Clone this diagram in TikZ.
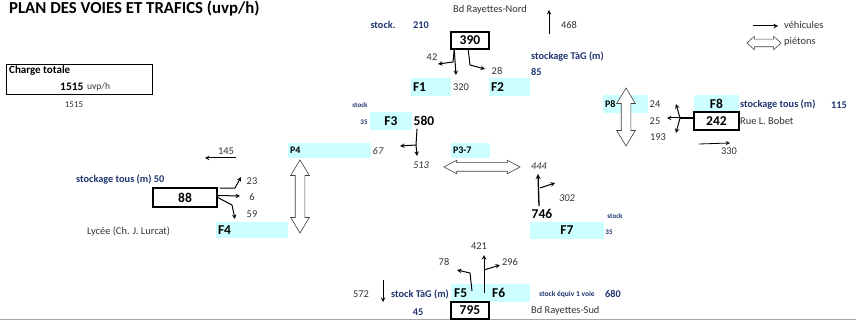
\documentclass[tikz,border=0pt]{standalone}
\usepackage{fontspec}
\setmainfont{Carlito}
\usetikzlibrary{
		calc,
		shapes.arrows
	}
\definecolor{fondvoie}{HTML}{CCFFFF}
\definecolor{bleustock}{HTML}{1F3570}
\tikzset{
		>=stealth,
		txt/.style={inner sep=0pt, font=\fontsize{10.4}{12}\selectfont, text=black!80},
		txtit/.style={txt, font=\fontsize{10.4}{12}\selectfont\itshape},
		stockage/.style={inner sep=0pt, font=\fontsize{10.3}{12}\selectfont\bfseries, text=bleustock},
		stockpetit/.style={inner sep=0pt, font=\fontsize{7}{9}\selectfont\bfseries, text=bleustock},
		nombre/.style={inner sep=0pt, font=\fontsize{13.5}{15}\selectfont\bfseries},
		voie/.style={fill=fondvoie, inner sep=0pt, font=\fontsize{13.5}{15}\selectfont\bfseries},
		petitevoie/.style={voie, font=\fontsize{10}{12}\selectfont\bfseries},
		compteur/.style={draw, line width=1.5pt, fill=white, inner sep=0pt, font=\fontsize{13.5}{15}\selectfont\bfseries},
		flux/.style={->, line width=1pt},
		pieton/.style={draw=black!75, line width=.6pt, fill=white, double arrow, inner sep=0pt,
			double arrow head extend=4.5pt, double arrow tip angle=62}
	}

\begin{document}
\begin{tikzpicture}[x=1pt,y=-1pt]
          \useasboundingbox (0,0) rectangle (856,320);
          \draw[black!35] (0,319.5) -- (856,319.5);

          % titre et charge
          \node[anchor=west, inner sep=0pt, font=\fontsize{16.8}{19}\selectfont\bfseries] (titre) at (9,9) {PLAN DES VOIES ET TRAFICS (uvp/h)};
          \node[draw, line width=1.5pt, minimum width=146pt, minimum height=30pt, inner sep=0pt] (charge) at (79.5,79.5) {};
          \node[anchor=west, stockage, text=black, font=\fontsize{11}{13}\selectfont\bfseries] (chargetxt) at (9,71) {Charge totale};
          \node[anchor=west, inner sep=0pt, font=\fontsize{11.5}{13}\selectfont\bfseries] (chargeval) at (60,87) {1515};
          \node[anchor=west, txt, font=\fontsize{9.5}{11}\selectfont] (chargeunit) at (87,87) {uvp/h};
          \node[txt, font=\fontsize{9}{11}\selectfont] (chargebis) at (74,105) {1515};

          % legende
          \coordinate (legA) at (753,26);
          \coordinate (legB) at (778,26);
          \draw[flux] (legA) -- (legB);
          \node[anchor=west, txt] (legveh) at (784,25) {véhicules};
          \node[pieton, minimum height=34pt, double arrow head extend=3pt, double arrow tip angle=85] (legpiet) at (764,43) {\rule{0pt}{7pt}};
          \node[anchor=west, txt] (legptxt) at (784,42) {piétons};

          % voies
          \node[voie, minimum width=40pt, minimum height=18pt, text width=36pt] (F1) at (431,87) {F1};
          \node[voie, minimum width=41pt, minimum height=18pt, text width=37pt] (F2) at (509.5,87) {F2};
          \node[voie, minimum width=42pt, minimum height=18pt, align=center] (F3) at (391,121) {F3};
          \node[petitevoie, minimum width=83pt, minimum height=15pt, text width=79pt] (P4) at (329.5,150.5) {P4};
          \node[petitevoie, minimum width=39pt, minimum height=15pt, text width=35pt] (P37) at (470.5,150.5) {P3-7};
          \node[voie, minimum width=72pt, minimum height=16pt, text width=68pt] (F4) at (252,230) {F4};
          \node[voie, minimum width=74pt, minimum height=17pt, align=center] (F7) at (567,230.5) {F7};
          \node[petitevoie, minimum width=45pt, minimum height=18pt, text width=41pt] (P8) at (625.5,104) {P8};
          \node[voie, minimum width=45pt, minimum height=17pt, align=center] (F8) at (716.5,103.5) {F8};
          \node[voie, minimum width=79pt, minimum height=18pt] (F56) at (490.5,293) {};
          \node[anchor=west, nombre] (F5) at (454,293) {F5};
          \node[anchor=west, nombre] (F6) at (492,293) {F6};

          % compteurs
          \node[compteur, minimum width=38pt, minimum height=17pt] (b390) at (470,40.5) {390};
          \node[compteur, minimum width=45pt, minimum height=18pt] (b242) at (716.5,121) {242};
          \node[compteur, minimum width=64pt, minimum height=19pt] (b88) at (185,197.5) {88};
          \node[compteur, minimum width=38pt, minimum height=17pt] (b795) at (470,310.5) {795};
          \node[nombre] (n580) at (424,121) {580};
          \node[nombre] (n746) at (542,214) {746};

          % pietons
          \node[pieton, rotate=90, minimum height=73pt] (pietP4) at (300,196.5) {\rule{0pt}{9pt}};
          \node[pieton, minimum height=76pt, double arrow head extend=2.5pt, double arrow tip angle=56] (pietP37) at (482,167) {\rule{0pt}{8pt}};
          \node[pieton, rotate=90, minimum height=58pt] (pietP8) at (626,117) {\rule{0pt}{9pt}};

          % nord
          \node[txt] (nomnord) at (490,10) {Bd Rayettes-Nord};
          \node[stockage] (stocknord) at (383,25) {stock.};
          \node[stockage] (v210) at (421,25) {210};
          \node[txt] (t468) at (569,25) {468};
          \coordinate (a468) at (549,34);
          \coordinate (b468) at (549,10);
          \draw[flux] (a468) -- (b468);
          \node[txt] (t42) at (432,57) {42};
          \node[txt] (t28) at (497,71) {28};
          \node[txt] (t320) at (461,87) {320};
          \node[anchor=west, stockage] (stocktag) at (531,57) {stockage TàG (m)};
          \node[anchor=west, stockage] (v85) at (531,72) {85};
          \coordinate (c42) at (453,62);
          \coordinate (e42) at (438,64);
          \coordinate (e320) at (456,75);
          \coordinate (c28) at (470,65);
          \coordinate (e28) at (485,69);
          \draw[flux] ($(b390.south west)+(4,0)$) -- (c42) -- (e42);
          \draw[flux] ($(b390.south west)+(4,0)$) -- (e320);
          \draw[flux] ($(b390.south west)+(18,0)$) -- (c28) -- (e28);

          % centre
          \node[stockpetit] (stockF3) at (360,105) {stock};
          \node[stockpetit] (v35F3) at (364,122) {35};
          \node[txtit] (t67) at (378,151) {67};
          \node[txtit] (t513) at (421,165) {513};
          \node[txtit] (t444) at (539,166) {444};
          \node[txtit] (t302) at (567,198) {302};
          \coordinate (c580) at (416,145);
          \coordinate (e513) at (417,156);
          \coordinate (e67) at (400,146);
          \draw[flux] ($(n580.south)+(-7,3)$) -- (c580) -- (e67);
          \draw[flux] (c580) -- (e513);
          \coordinate (a746) at (539,206);
          \coordinate (e444) at (538,174);
          \coordinate (c746) at (540,188);
          \coordinate (e302) at (555,183);
          \draw[flux, line width=1.3pt] (a746) -- (e444);
          \draw[flux] (c746) -- (e302);
          \node[stockpetit] (stockF7) at (615,216) {stock};
          \node[stockpetit] (v35F7) at (609,232) {35};

          % ouest
          \node[txt] (t145) at (226,151) {145};
          \coordinate (a145) at (236,158);
          \coordinate (b145) at (205,158);
          \draw[flux] (a145) -- (b145);
          \node[anchor=west, stockage] (stockouest) at (76,180) {stockage tous (m) 50};
          \node[anchor=west, txt] (lycee) at (87,232) {Lycée (Ch. J. Lurcat)};
          \node[txt] (t23) at (252,181) {23};
          \node[txt] (t6) at (252,197) {6};
          \node[txt] (t59) at (252,214) {59};
          \coordinate (c23) at (235,188);
          \coordinate (e23) at (241,177);
          \coordinate (e6) at (240,196);
          \coordinate (c59) at (232,205);
          \coordinate (e59) at (235,219);
          \draw[flux] ($(b88.north east)+(2,1)$) -- (c23) -- (e23);
          \draw[flux] ($(b88.east)+(0,-2)$) -- (e6);
          \draw[flux] ($(b88.east)+(0,0)$) -- (c59) -- (e59);

          % est
          \node[txt] (t24) at (655,104) {24};
          \node[txt] (t25) at (655,121) {25};
          \node[txt] (t193) at (658,137) {193};
          \node[anchor=west, stockage] (stockest) at (740,105) {stockage tous (m)};
          \node[stockage] (v115) at (839,105) {115};
          \node[anchor=west, txt] (ruebobet) at (740,121) {Rue L. Bobet};
          \node[txt] (t330) at (729,151) {330};
          \coordinate (c242) at (680,118);
          \coordinate (e25) at (667,118);
          \coordinate (e24) at (676,104);
          \coordinate (e193) at (676,133);
          \draw[line width=1.5pt] ($(b242.west)+(0,-3)$) -- (c242);
          \draw[flux] (c242) -- (e25);
          \draw[flux] (c242) -- (e24);
          \draw[flux] (c242) -- (e193);
          \coordinate (a330) at (699,144);
          \coordinate (b330) at (730,143);
          \draw[flux, line width=.8pt] (a330) -- (b330);

          % sud
          \node[txt] (t421) at (479,246) {421};
          \node[txt] (t78) at (444,262) {78};
          \node[txt] (t296) at (510,262) {296};
          \node[txt] (t572) at (361,294) {572};
          \coordinate (a572) at (383,280);
          \coordinate (b572) at (383,302);
          \draw[flux] (a572) -- (b572);
          \node[anchor=west, stockage] (stocksud) at (391,294) {stock TàG (m)};
          \node[stockage] (v45) at (418,312) {45};
          \node[anchor=west, stockpetit, font=\fontsize{7.5}{9}\selectfont\bfseries] (stockequiv) at (539,294) {stock équiv 1 voie};
          \node[stockage] (v680) at (613,294) {680};
          \node[anchor=west, txt] (nomsud) at (531,311) {Bd Rayettes-Sud};
          \coordinate (a421) at (484,293);
          \coordinate (e421) at (484,255);
          \coordinate (c296) at (484,270);
          \coordinate (e296) at (500,265);
          \coordinate (a78) at (472,291);
          \coordinate (c78) at (470,273);
          \coordinate (e78) at (457,270);
          \draw[flux] (a421) -- (e421);
          \draw[flux] (c296) -- (e296);
          \draw[flux] (a78) -- (c78) -- (e78);
\end{tikzpicture}
\end{document}
